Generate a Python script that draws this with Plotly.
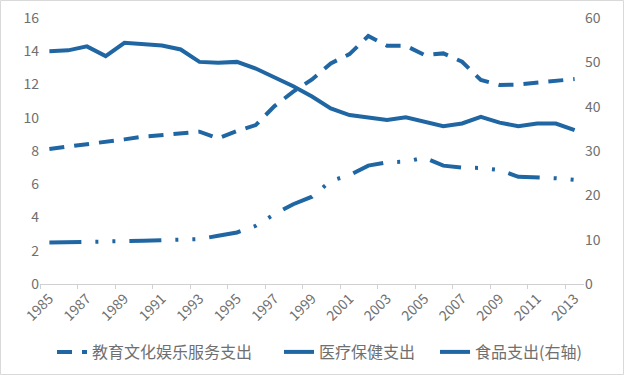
import plotly.graph_objects as go

years = list(range(1985, 2014))
education = [8.12, 8.25, 8.42, 8.56, 8.70, 8.86, 8.96, 9.06, 9.16, 8.76, 9.20, 9.56, 10.7, 11.57, 12.3,
             13.27, 13.83, 14.92, 14.33, 14.33, 13.77, 13.87, 13.37, 12.27, 11.97, 12.0, 12.1, 12.17, 12.33]
health = [2.49, 2.50, 2.52, 2.55, 2.58, 2.60, 2.62, 2.63, 2.70, 2.90, 3.10, 3.50, 4.20, 4.80, 5.25,
          6.20, 6.55, 7.12, 7.32, 7.36, 7.60, 7.12, 7.00, 6.98, 6.86, 6.45, 6.42, 6.36, 6.26]
food = [52.5, 52.7, 53.6, 51.4, 54.4, 54.2, 53.8, 52.9, 50.1, 49.9, 50.1, 48.6, 46.6, 44.6, 42.3,
        39.6, 38.1, 37.6, 37.0, 37.6, 36.6, 35.6, 36.2, 37.7, 36.4, 35.6, 36.2, 36.2, 34.7]
names = ["教育文化娱乐服务支出", "医疗保健支出", "食品支出(右轴)"]
tick_years = list(range(1985, 2014, 2))

color = "#1f66a3"
gray = "#6f6f6f"
font_family = "Noto Sans CJK SC, Noto Sans, sans-serif"

fig = go.Figure()
fig.add_trace(go.Scatter(x=years, y=education, name=names[0], mode="lines", legend="legend",
                         line=dict(color=color, width=4, dash="15px,10px")))
fig.add_trace(go.Scatter(x=years, y=health, name=names[1], mode="lines", legend="legend2",
                         line=dict(color=color, width=4, dash="32px,14px,3px,14px,3px,14px")))
fig.add_trace(go.Scatter(x=years, y=food, name=names[2], mode="lines", yaxis="y2", legend="legend3",
                         line=dict(color=color, width=4)))

W, H = 624, 375
ml, mr, mt, mb = 40, 40, 18, 91
pw, ph = W - ml - mr, H - mt - mb


def leg(x_px):
    return dict(orientation="h", xref="container", yref="container",
                x=x_px / W, xanchor="left", y=1 - 352 / H, yanchor="middle",
                font=dict(size=16, color=gray), bgcolor="rgba(0,0,0,0)")


fig.update_layout(
    template="none",
    width=W, height=H,
    margin=dict(l=ml, r=mr, t=mt, b=mb, pad=0, autoexpand=False),
    paper_bgcolor="white", plot_bgcolor="white",
    font=dict(family=font_family, size=14, color=gray),
    showlegend=True,
    legend=leg(52), legend2=leg(279), legend3=leg(435),
    xaxis=dict(range=[1984.5, 2013.5], tickmode="array", tickvals=tick_years,
               ticktext=[str(y) for y in tick_years], tickangle=-45, ticks="", automargin=False,
               showgrid=False, zeroline=False, showline=True, linecolor="#d0d0d0", linewidth=1,
               tickfont=dict(size=14, color=gray),
               minor=dict(tickmode="linear", tick0=1984.5, dtick=2, ticks="outside",
                          ticklen=4, tickcolor="#d0d0d0", showgrid=False)),
    yaxis=dict(range=[0, 16], dtick=2, showgrid=False, zeroline=False, showline=False,
               automargin=False, ticks="", tickfont=dict(size=14, color=gray)),
    yaxis2=dict(range=[0, 60], dtick=10, overlaying="y", side="right", showgrid=False,
                automargin=False, zeroline=False, showline=False, ticks="",
                tickfont=dict(size=14, color=gray)),
    shapes=[dict(type="rect", xref="paper", yref="paper",
                 x0=-ml / pw + 0.5 / pw, x1=1 + mr / pw - 0.5 / pw,
                 y0=-mb / ph + 0.5 / ph, y1=1 + mt / ph - 0.5 / ph,
                 line=dict(color="#d9d9d9", width=1), fillcolor="rgba(0,0,0,0)", layer="below")],
)

fig.write_html("out.html", config={"displayModeBar": False},
               post_script="document.body.style.margin='0';document.body.style.overflow='hidden';")
